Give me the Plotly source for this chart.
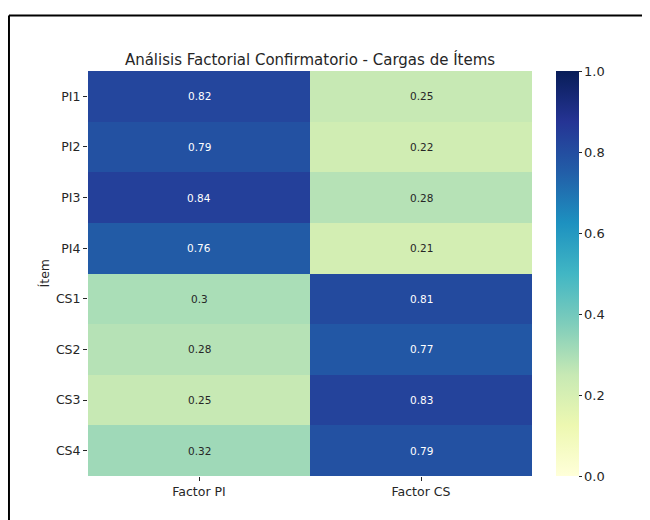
import plotly.graph_objects as go

items = ["PI1", "PI2", "PI3", "PI4", "CS1", "CS2", "CS3", "CS4"]
factors = ["Factor PI", "Factor CS"]
factor_pi = [0.82, 0.79, 0.84, 0.76, 0.30, 0.28, 0.25, 0.32]
factor_cs = [0.25, 0.22, 0.28, 0.21, 0.81, 0.77, 0.83, 0.79]
cbar_ticks = [0.0, 0.2, 0.4, 0.6, 0.8, 1.0]

# YlGnBu (colorbrewer, 9 clases)
ylgnbu = ["#ffffd9", "#edf8b1", "#c7e9b4", "#7fcdbb", "#41b6c4",
          "#1d91c0", "#225ea8", "#253494", "#081d58"]
colorscale = [[i / 8, c] for i, c in enumerate(ylgnbu)]

z = [[pi, cs] for pi, cs in zip(factor_pi, factor_cs)]

fig = go.Figure(
    go.Heatmap(
        z=z, x=factors, y=items, zmin=0, zmax=1,
        colorscale=colorscale,
        colorbar=dict(
            x=1.054, xanchor="left", xpad=0, y=0, yanchor="bottom", ypad=0,
            len=1, lenmode="fraction", thickness=23, outlinewidth=0,
            tickvals=cbar_ticks, ticktext=[f"{t:.1f}" for t in cbar_ticks],
            ticks="outside", ticklen=3, tickcolor="#262626",
            tickfont=dict(size=13, color="#262626"),
        ),
        hoverongaps=False,
    )
)

annotations = []
for item, pi, cs in zip(items, factor_pi, factor_cs):
    for fac, val in zip(factors, (pi, cs)):
        annotations.append(dict(
            x=fac, y=item, text=f"{val:g}", showarrow=False,
            font=dict(size=10.5, color="white" if val > 0.6 else "#262626"),
        ))

# título del eje y como anotación, para poder pegarlo a las etiquetas
annotations.append(dict(
    text="Ítem", xref="paper", yref="paper", x=-0.097, y=0.5,
    xanchor="center", yanchor="middle", textangle=-90, showarrow=False,
    font=dict(size=12.5, color="#262626"),
))

# la página tiene 8px de margen en el body, por eso todo va desplazado
fig.update_layout(
    width=650, height=520,
    margin=dict(l=80, r=126, t=63, b=52),
    paper_bgcolor="white", plot_bgcolor="white",
    font=dict(family="DejaVu Sans", color="#262626"),
    title=dict(
        text="Análisis Factorial Confirmatorio - Cargas de Ítems",
        x=(80 + 524) / 2 / 650, xanchor="center", y=1 - 52 / 520, yanchor="middle",
        font=dict(size=15, color="#262626"),
    ),
    annotations=annotations,
    shapes=[
        dict(type="line", xref="paper", yref="paper", x0=-0.178, x1=1.4, y0=1.137, y1=1.137,
             line=dict(color="black", width=2)),
        dict(type="line", xref="paper", yref="paper", x0=-0.178, x1=-0.178, y0=1.137, y1=-0.2,
             line=dict(color="black", width=2)),
    ],
)
fig.update_xaxes(
    showgrid=False, zeroline=False, ticks="outside", ticklen=4, tickcolor="#262626",
    tickfont=dict(size=12.5),
)
fig.update_yaxes(
    autorange="reversed", showgrid=False, zeroline=False, ticks="outside", ticklen=4,
    tickcolor="#262626", tickfont=dict(size=12.5),
)

fig.write_html("out.html")
